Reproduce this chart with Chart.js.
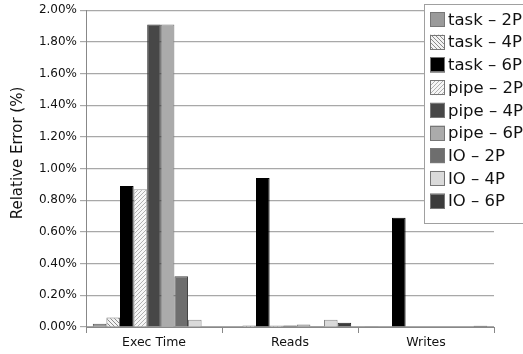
<!DOCTYPE html>
<html><head><meta charset="utf-8">
<script src="https://cdn.jsdelivr.net/npm/chart.js@4/dist/chart.umd.min.js"></script>
<style>html,body{margin:0;padding:0;background:#fff}#wrap{width:523px;height:354px}</style>
</head><body><div id="wrap"><canvas id="c" width="523" height="354"></canvas></div>
<script>
const categories = ['Exec Time', 'Reads', 'Writes'];
const seriesNames = ['task \u2013 2P','task \u2013 4P','task \u2013 6P','pipe \u2013 2P','pipe \u2013 4P','pipe \u2013 6P','IO \u2013 2P','IO \u2013 4P','IO \u2013 6P'];
const task2P = [0.02, 0.003, 0.004];
const task4P = [0.06, 0.01, 0.003];
const task6P = [0.89, 0.94, 0.69];
const pipe2P = [0.87, 0.01, 0.003];
const pipe4P = [1.91, 0.01, 0.0];
const pipe6P = [1.91, 0.015, 0.0];
const io2P = [0.32, 0.002, 0.0];
const io4P = [0.045, 0.045, 0.0];
const io6P = [0.003, 0.027, 0.008];
const yTicks = [0,0.2,0.4,0.6,0.8,1.0,1.2,1.4,1.6,1.8,2.0];
const yTitle = 'Relative Error (%)';

function hatch(dir, line, bg, step) {
  const s = step, cv = document.createElement('canvas');
  cv.width = s; cv.height = s;
  const g = cv.getContext('2d');
  g.fillStyle = bg; g.fillRect(0,0,s,s);
  g.strokeStyle = line; g.lineWidth = 1;
  g.beginPath();
  if (dir === 'back') {
    g.moveTo(-1,-1); g.lineTo(s+1,s+1);
    g.moveTo(-1,s-1); g.lineTo(1,s+1);
    g.moveTo(s-1,-1); g.lineTo(s+1,1);
  } else {
    g.moveTo(-1,s+1); g.lineTo(s+1,-1);
    g.moveTo(-1,1); g.lineTo(1,-1);
    g.moveTo(s-1,s+1); g.lineTo(s+1,s-1);
  }
  g.stroke();
  return document.getElementById('c').getContext('2d').createPattern(cv,'repeat');
}
const fills = [
  '#9a9a9a',
  hatch('back','#8a8a8a','#f2f2f2',4),
  '#000000',
  hatch('fwd','#b0b0b0','#f6f6f6',4),
  '#474747',
  '#ababab',
  '#6e6e6e',
  '#dadada',
  '#3c3c3c'
];
const borders = ['#555','#777','#000','#999','#333','#777','#444','#888','#222'];
const values = [task2P, task4P, task6P, pipe2P, pipe4P, pipe6P, io2P, io4P, io6P];

const legendPlugin = {
  id: 'boxLegend',
  afterDraw(chart) {
    const ctx = chart.ctx;
    ctx.save();
    const x0 = 424.5, y0 = 4.5, w = 110, h = 219;
    ctx.fillStyle = '#fff';
    ctx.fillRect(x0, y0, w, h);
    ctx.strokeStyle = '#a0a0a0'; ctx.lineWidth = 1;
    ctx.strokeRect(x0, y0, w, h);
    ctx.font = '16.5px "DejaVu Sans"';
    ctx.textBaseline = 'middle';
    chart.data.datasets.forEach((ds, i) => {
      const cy = 19.5 + i * 22.7;
      ctx.fillStyle = ds.backgroundColor;
      ctx.fillRect(430, cy - 7.5, 15, 15);
      ctx.strokeStyle = '#777';
      ctx.strokeRect(430.5, Math.round(cy - 7.5) + 0.5, 14, 14);
      ctx.fillStyle = '#111';
      ctx.fillText(ds.label, 448, cy + 1);
    });
    // y axis title
    ctx.translate(18, 153);
    ctx.rotate(-Math.PI / 2);
    ctx.font = '15px "DejaVu Sans"';
    ctx.textAlign = 'center';
    ctx.textBaseline = 'middle';
    ctx.fillStyle = '#111';
    ctx.fillText(yTitle, 0, 0);
    ctx.restore();
  }
};

new Chart(document.getElementById('c'), {
  type: 'bar',
  data: {
    labels: categories,
    datasets: seriesNames.map((n, i) => ({
      label: n, data: values[i], backgroundColor: fills[i],
      borderColor: borders[i], borderWidth: 1
    }))
  },
  options: {
    responsive: false, animation: false,
    layout: { padding: { top: 9, right: 29, left: 0, bottom: 0 } },
    categoryPercentage: 0.9, barPercentage: 1.0,
    plugins: { legend: { display: false }, tooltip: { enabled: false } },
    scales: {
      x: {
        grid: { display: true, drawOnChartArea: false, offset: true, tickLength: 6, color: '#888' },
        border: { color: '#888', width: 1 },
        ticks: { color: '#111', font: { family: 'DejaVu Sans', size: 12.5 }, padding: 2 },
        afterFit(s) { s.height = 27; }
      },
      y: {
        min: 0, max: 2,
        afterBuildTicks(s) { s.ticks = yTicks.map(v => ({ value: v })); },
        grid: { color: '#a8a8a8', tickLength: 6, lineWidth: 1.2 },
        border: { color: '#888', width: 1 },
        ticks: { color: '#111', font: { family: 'DejaVu Sans', size: 12 }, padding: 3,
          callback: v => Number(v).toFixed(2) + '%' },
        afterFit(s) { s.width = 86; }
      }
    }
  },
  plugins: [legendPlugin]
});
</script></body></html>
